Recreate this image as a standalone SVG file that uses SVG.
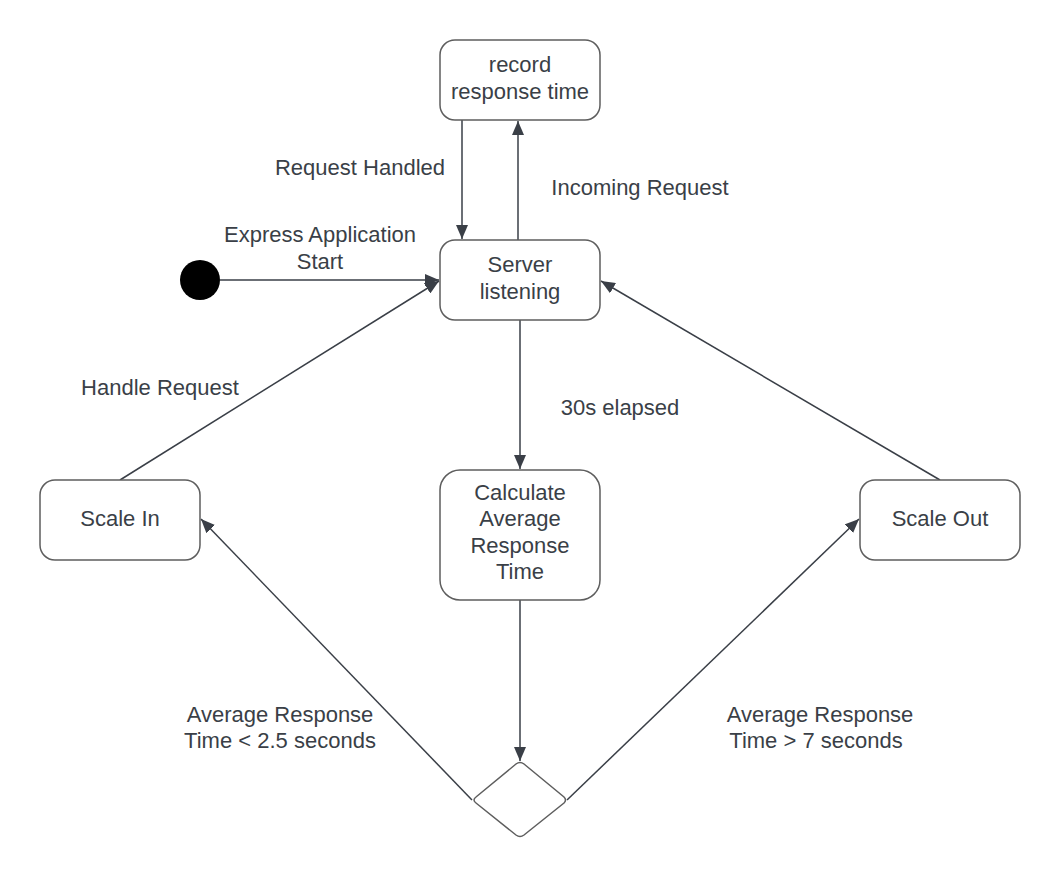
<svg xmlns="http://www.w3.org/2000/svg" width="1060" height="880" viewBox="0 0 1060 880">
<style>
.n{fill:#fff;stroke:#5e5e5e;stroke-width:1.5}
.t{font-family:"Liberation Sans",Arial,sans-serif;font-size:22px;fill:#3a3f47;text-anchor:middle}
.c{stroke:#3a3f47;stroke-width:1.5;fill:none;marker-end:url(#a)}
</style>
<defs>
<marker id="a" viewBox="0 0 14 12" refX="14" refY="6" markerWidth="14" markerHeight="12" markerUnits="userSpaceOnUse" orient="auto">
<path d="M0,0 L14,6 L0,12 z" fill="#3a3f47"/>
</marker>
</defs>
<rect width="1060" height="880" fill="#fff"/>
<g id="connectors">
<line class="c" x1="220" y1="280" x2="439" y2="280"/>
<line class="c" x1="462" y1="120" x2="462" y2="239"/>
<line class="c" x1="518" y1="240" x2="518" y2="121"/>
<line class="c" x1="520" y1="320" x2="520" y2="469"/>
<line class="c" x1="520" y1="600" x2="520" y2="761"/>
<line class="c" x1="120" y1="480" x2="439" y2="281"/>
<line class="c" x1="940" y1="480" x2="601" y2="281"/>
<line class="c" x1="472" y1="800" x2="201" y2="519"/>
<line class="c" x1="567" y1="800" x2="859" y2="519"/>
<text class="t" x="360" y="175">Request Handled</text>
<text class="t" x="640" y="195">Incoming Request</text>
<text class="t" x="320" y="242">Express Application</text>
<text class="t" x="320" y="269">Start</text>
<text class="t" x="160" y="395">Handle Request</text>
<text class="t" x="620" y="415">30s elapsed</text>
<text class="t" x="280" y="722">Average Response</text>
<text class="t" x="280" y="748">Time &lt; 2.5 seconds</text>
<text class="t" x="820" y="722">Average Response</text>
<text class="t" x="816" y="748">Time &gt; 7 seconds</text>
</g>
<g id="start"><circle cx="200" cy="280" r="20" fill="#000"/></g>
<g id="record"><rect class="n" x="440" y="40" width="160" height="80" rx="15"/><text class="t" x="520" y="72">record</text><text class="t" x="520" y="99">response time</text></g>
<g id="server"><rect class="n" x="440" y="240" width="160" height="80" rx="15"/><text class="t" x="520" y="272">Server</text><text class="t" x="520" y="299">listening</text></g>
<g id="calc"><rect class="n" x="440" y="470" width="160" height="130" rx="20"/><text class="t" x="520" y="500">Calculate</text><text class="t" x="520" y="526">Average</text><text class="t" x="520" y="553">Response</text><text class="t" x="520" y="579">Time</text></g>
<g id="scalein"><rect class="n" x="40" y="480" width="160" height="80" rx="15"/><text class="t" x="120" y="526">Scale In</text></g>
<g id="scaleout"><rect class="n" x="860" y="480" width="160" height="80" rx="15"/><text class="t" x="940" y="526">Scale Out</text></g>
<g id="decision"><path class="n" d="M516,764 Q520,761 524,764 L564,797 Q567,800 564,803 L524,835 Q520,838 516,835 L476,803 Q472,800 476,797 Z"/></g>
</svg>
